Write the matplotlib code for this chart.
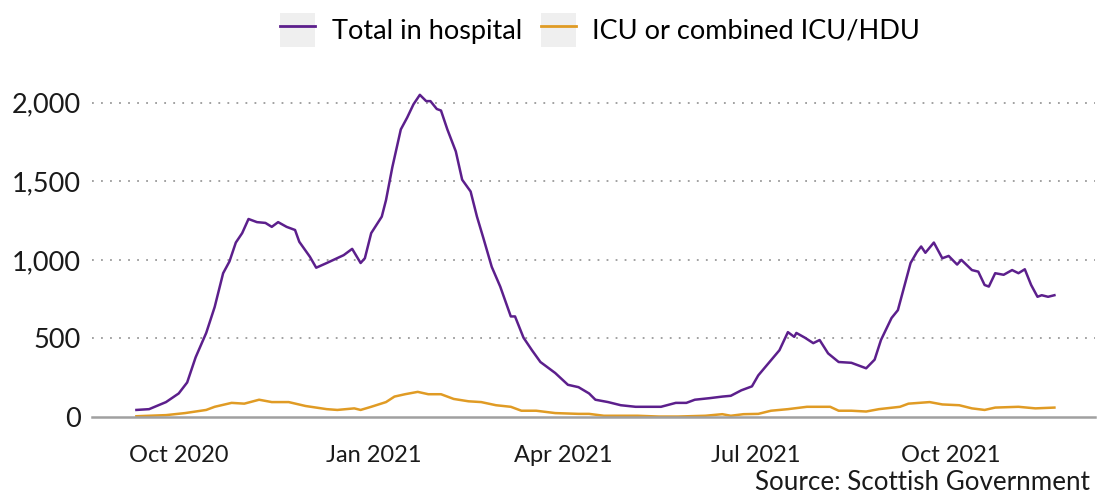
import matplotlib
matplotlib.use("Agg")
import matplotlib.pyplot as plt
import matplotlib.dates as mdates
from matplotlib.patches import Rectangle
from matplotlib.lines import Line2D
from matplotlib.ticker import FuncFormatter
import pandas as pd

plt.rcParams['font.family'] = ['Lato', 'DejaVu Sans']

# total in hospital
hosp_dates = [
    "2020-09-11", "2020-09-17", "2020-09-25", "2020-10-01", "2020-10-05", "2020-10-09",
    "2020-10-14", "2020-10-18", "2020-10-22", "2020-10-25", "2020-10-28", "2020-10-31",
    "2020-11-03", "2020-11-07", "2020-11-11", "2020-11-14", "2020-11-17", "2020-11-21",
    "2020-11-25", "2020-11-27", "2020-12-02", "2020-12-05", "2020-12-10", "2020-12-14",
    "2020-12-18", "2020-12-22", "2020-12-26", "2020-12-28", "2020-12-31", "2021-01-05",
    "2021-01-07", "2021-01-10", "2021-01-14", "2021-01-17", "2021-01-20", "2021-01-23",
    "2021-01-26", "2021-01-28", "2021-01-31", "2021-02-02", "2021-02-05", "2021-02-09",
    "2021-02-12", "2021-02-16", "2021-02-19", "2021-02-22", "2021-02-26", "2021-03-02",
    "2021-03-07", "2021-03-09", "2021-03-13", "2021-03-17", "2021-03-21", "2021-03-28",
    "2021-04-03", "2021-04-08", "2021-04-13", "2021-04-16", "2021-04-22", "2021-04-28",
    "2021-05-05", "2021-05-11", "2021-05-17", "2021-05-24", "2021-05-29", "2021-06-02",
    "2021-06-09", "2021-06-15", "2021-06-19", "2021-06-24", "2021-06-29", "2021-07-02",
    "2021-07-07", "2021-07-12", "2021-07-16", "2021-07-19", "2021-07-20", "2021-07-24",
    "2021-07-28", "2021-07-31", "2021-08-04", "2021-08-09", "2021-08-15", "2021-08-19",
    "2021-08-22", "2021-08-26", "2021-08-29", "2021-09-03", "2021-09-06", "2021-09-09",
    "2021-09-12", "2021-09-15", "2021-09-17", "2021-09-19", "2021-09-23", "2021-09-27",
    "2021-09-30", "2021-10-04", "2021-10-06", "2021-10-11", "2021-10-14", "2021-10-17",
    "2021-10-19", "2021-10-22", "2021-10-26", "2021-10-30", "2021-11-02", "2021-11-05",
    "2021-11-08", "2021-11-11", "2021-11-13", "2021-11-16", "2021-11-19",
]
hosp_values = [
    45, 50, 95, 150, 220, 380,
    535, 700, 915, 990, 1110, 1170,
    1260, 1240, 1235, 1210, 1240, 1210,
    1190, 1115, 1020, 950, 980, 1005,
    1030, 1070, 980, 1010, 1170, 1275,
    1380, 1590, 1830, 1905, 1990, 2050,
    2010, 2010, 1960, 1950, 1830, 1690,
    1510, 1435, 1275, 1140, 955, 830,
    640, 640, 505, 425, 350, 280,
    205, 190, 150, 110, 95, 75,
    65, 65, 65, 90, 90, 110,
    120, 130, 135, 170, 195, 265,
    345, 425, 540, 510, 535, 505,
    470, 490, 405, 350, 345, 325,
    310, 365, 490, 630, 680, 830,
    980, 1050, 1085, 1045, 1110, 1010,
    1025, 970, 1000, 935, 925, 840,
    830, 915, 905, 935, 915, 940,
    840, 765, 775, 765, 775,
]

# ICU or combined ICU/HDU
icu_dates = [
    "2020-09-11", "2020-09-25", "2020-10-04", "2020-10-14", "2020-10-18", "2020-10-26",
    "2020-11-01", "2020-11-08", "2020-11-14", "2020-11-22", "2020-11-30", "2020-12-10",
    "2020-12-15", "2020-12-23", "2020-12-26", "2020-12-31", "2021-01-07", "2021-01-11",
    "2021-01-16", "2021-01-22", "2021-01-27", "2021-02-02", "2021-02-08", "2021-02-15",
    "2021-02-21", "2021-02-28", "2021-03-07", "2021-03-12", "2021-03-19", "2021-03-28",
    "2021-04-08", "2021-04-13", "2021-04-20", "2021-05-06", "2021-05-16", "2021-05-25",
    "2021-06-07", "2021-06-15", "2021-06-19", "2021-06-25", "2021-07-02", "2021-07-08",
    "2021-07-16", "2021-07-25", "2021-07-31", "2021-08-05", "2021-08-09", "2021-08-15",
    "2021-08-22", "2021-08-28", "2021-09-07", "2021-09-11", "2021-09-16", "2021-09-21",
    "2021-09-27", "2021-10-05", "2021-10-11", "2021-10-17", "2021-10-22", "2021-11-02",
    "2021-11-10", "2021-11-19",
]
icu_values = [
    5, 12, 25, 45, 65, 90,
    85, 110, 95, 95, 70, 50,
    45, 55, 45, 65, 95, 130,
    145, 160, 145, 145, 115, 100,
    95, 75, 65, 40, 40, 25,
    20, 20, 8, 8, 3, 3,
    8, 18, 8, 18, 20, 40,
    50, 65, 65, 65, 40, 40,
    35, 50, 65, 85, 90, 95,
    80, 75, 55, 45, 60, 65,
    55, 60,
]

purple = '#5c1f8c'
orange = '#e09b24'

fig = plt.figure(figsize=(10.99, 4.99), dpi=100)
ax = fig.add_axes([0.0837, 0.1643, 0.9123, 0.6614])

ax.plot(pd.to_datetime(hosp_dates), hosp_values, color=purple, lw=1.8)
ax.plot(pd.to_datetime(icu_dates), icu_values, color=orange, lw=1.8)

ax.set_ylim(0, 2100)
ax.set_xlim(pd.Timestamp("2020-08-21"), pd.Timestamp("2021-12-08"))
ax.set_yticks([0, 500, 1000, 1500, 2000])
ax.yaxis.set_major_formatter(FuncFormatter(lambda v, p: f"{int(v):,}"))
ax.xaxis.set_major_locator(mdates.MonthLocator(bymonth=[1, 4, 7, 10]))
ax.xaxis.set_major_formatter(mdates.DateFormatter("%b %Y"))

for v in [500, 1000, 1500, 2000]:
    ax.axhline(v, color='#9a9a9a', lw=1.3, ls=(0, (1, 4)), zorder=0)

for s in ['top', 'right', 'left']:
    ax.spines[s].set_visible(False)
ax.spines['bottom'].set_color('#a0a0a0')
ax.spines['bottom'].set_linewidth(1.8)
ax.tick_params(axis='both', length=0, colors='#1a1a1a')
ax.tick_params(axis='y', labelsize=19.5, pad=8)
ax.tick_params(axis='x', labelsize=17, pad=20)

handles = [
    (Rectangle((0, 0), 1, 1, facecolor='#efefef', edgecolor='none'), Line2D([], [], color=purple, lw=2)),
    (Rectangle((0, 0), 1, 1, facecolor='#efefef', edgecolor='none'), Line2D([], [], color=orange, lw=2)),
]
fig.legend(handles, ["Total in hospital", "ICU or combined ICU/HDU"], loc='center',
           bbox_to_anchor=(0.546, 0.94), ncol=2, frameon=False, fontsize=19.5,
           handlelength=1.3, handleheight=1.6, handletextpad=0.6, columnspacing=0.7)

fig.text(0.992, 0.008, "Source: Scottish Government", ha='right', va='bottom',
         fontsize=18.7, color='#1a1a1a')

fig.savefig("out.png", dpi=100)
